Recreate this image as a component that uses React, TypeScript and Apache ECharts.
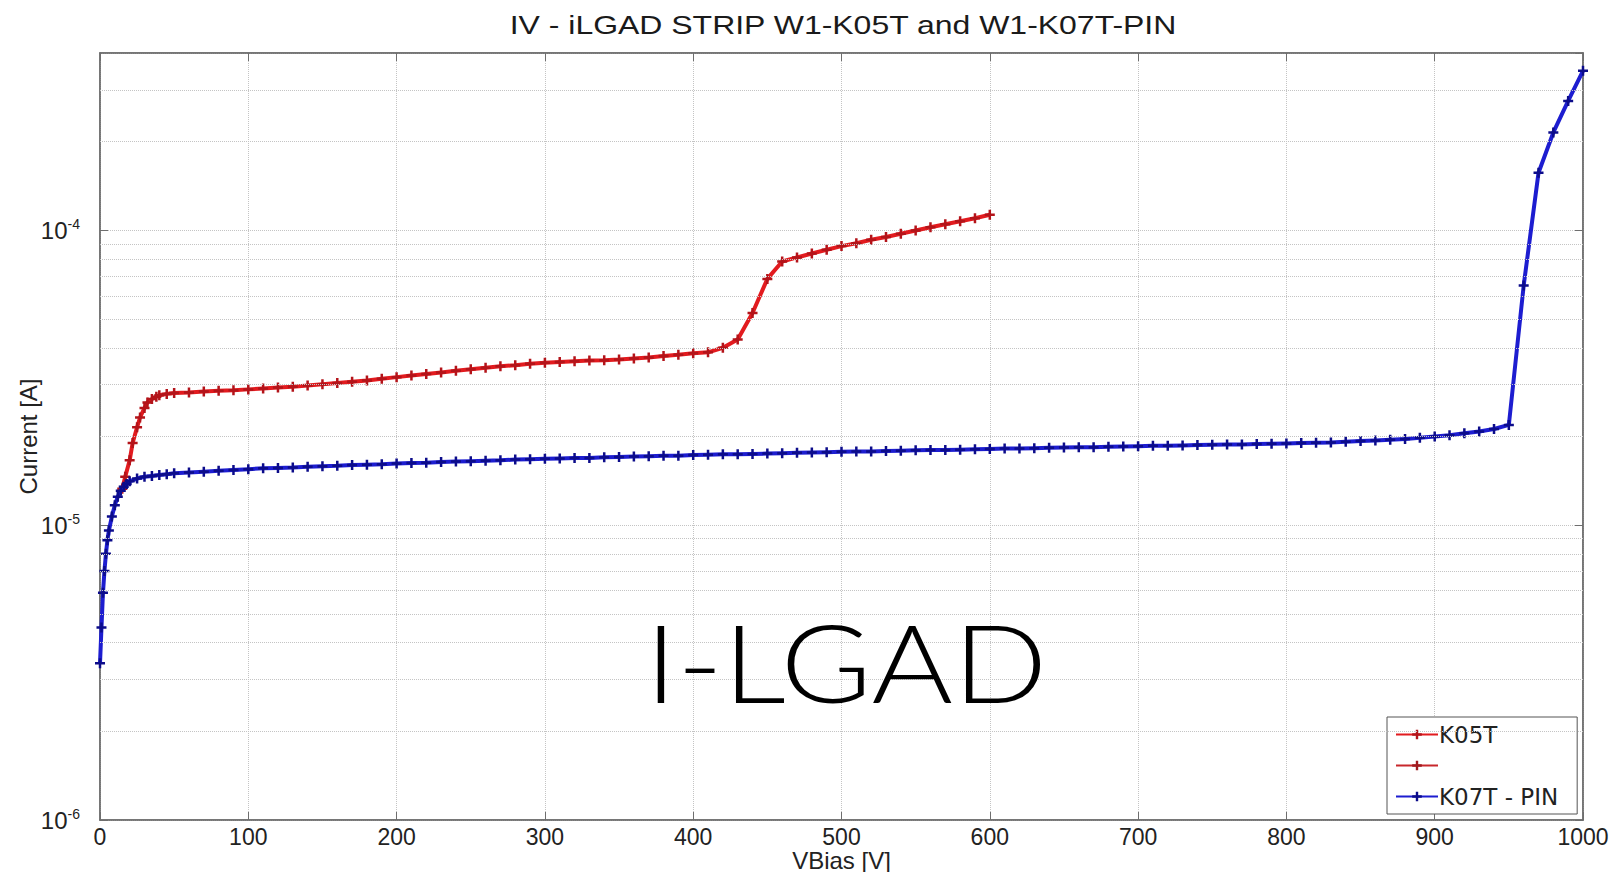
import React, { useEffect, useRef } from "react";
import * as echarts from "echarts";

// ---- data (V in volts, I in amperes) ----
const k05tVolts = [
  15, 17, 20, 22, 25, 27, 30, 32, 35, 38, 40, 45, 50, 60, 70, 80, 90, 100,
  110, 120, 130, 140, 150, 160, 170, 180, 190, 200, 210, 220, 230, 240, 250,
  260, 270, 280, 290, 300, 310, 320, 330, 340, 350, 360, 370, 380, 390, 400,
  410, 420, 430, 440, 450, 460, 470, 480, 490, 500, 510, 520, 530, 540, 550,
  560, 570, 580, 590, 600,
];
const k05tCurrent = [
  1.33e-5, 1.46e-5, 1.66e-5, 1.9e-5, 2.15e-5, 2.32e-5, 2.5e-5, 2.61e-5, 2.68e-5,
  2.73e-5, 2.76e-5, 2.79e-5, 2.81e-5, 2.82e-5, 2.84e-5, 2.86e-5, 2.87e-5, 2.89e-5,
  2.91e-5, 2.93e-5, 2.95e-5, 2.98e-5, 3.01e-5, 3.04e-5, 3.07e-5, 3.1e-5, 3.14e-5,
  3.18e-5, 3.22e-5, 3.26e-5, 3.3e-5, 3.34e-5, 3.38e-5, 3.42e-5, 3.46e-5, 3.49e-5,
  3.53e-5, 3.56e-5, 3.58e-5, 3.6e-5, 3.62e-5, 3.63e-5, 3.65e-5, 3.68e-5, 3.71e-5,
  3.75e-5, 3.79e-5, 3.83e-5, 3.86e-5, 4.0e-5, 4.27e-5, 5.25e-5, 6.85e-5, 7.85e-5,
  8.1e-5, 8.35e-5, 8.6e-5, 8.85e-5, 9.05e-5, 9.3e-5, 9.5e-5, 9.75e-5, 1.0e-4,
  1.025e-4, 1.05e-4, 1.075e-4, 1.1e-4, 1.13e-4,
];

const k07tVolts = [
  0, 1, 2, 3, 4, 5, 6, 8, 10, 12, 14, 16, 18, 20, 25, 30, 35, 40, 45, 50, 60,
  70, 80, 90, 100, 110, 120, 130, 140, 150, 160, 170, 180, 190, 200, 210, 220,
  230, 240, 250, 260, 270, 280, 290, 300, 310, 320, 330, 340, 350, 360, 370,
  380, 390, 400, 410, 420, 430, 440, 450, 460, 470, 480, 490, 500, 510, 520,
  530, 540, 550, 560, 570, 580, 590, 600, 610, 620, 630, 640, 650, 660, 670,
  680, 690, 700, 710, 720, 730, 740, 750, 760, 770, 780, 790, 800, 810, 820,
  830, 840, 850, 860, 870, 880, 890, 900, 910, 920, 930, 940, 950, 960, 970,
  980, 990, 1000,
];
const k07tCurrent = [
  3.4e-6, 4.5e-6, 5.9e-6, 7.0e-6, 8.0e-6, 8.9e-6, 9.6e-6, 1.07e-5, 1.17e-5,
  1.25e-5, 1.31e-5, 1.35e-5, 1.38e-5, 1.41e-5, 1.44e-5, 1.46e-5, 1.47e-5,
  1.48e-5, 1.49e-5, 1.5e-5, 1.51e-5, 1.52e-5, 1.53e-5, 1.54e-5, 1.55e-5,
  1.56e-5, 1.565e-5, 1.57e-5, 1.58e-5, 1.585e-5, 1.59e-5, 1.6e-5, 1.605e-5,
  1.61e-5, 1.62e-5, 1.625e-5, 1.63e-5, 1.64e-5, 1.645e-5, 1.65e-5, 1.655e-5,
  1.66e-5, 1.67e-5, 1.675e-5, 1.68e-5, 1.685e-5, 1.69e-5, 1.69e-5, 1.7e-5,
  1.705e-5, 1.71e-5, 1.715e-5, 1.72e-5, 1.72e-5, 1.73e-5, 1.735e-5, 1.74e-5,
  1.74e-5, 1.745e-5, 1.75e-5, 1.755e-5, 1.76e-5, 1.765e-5, 1.77e-5, 1.775e-5,
  1.78e-5, 1.78e-5, 1.785e-5, 1.79e-5, 1.795e-5, 1.8e-5, 1.8e-5, 1.805e-5,
  1.81e-5, 1.815e-5, 1.82e-5, 1.82e-5, 1.825e-5, 1.83e-5, 1.835e-5, 1.84e-5,
  1.84e-5, 1.845e-5, 1.85e-5, 1.855e-5, 1.86e-5, 1.86e-5, 1.865e-5, 1.87e-5,
  1.875e-5, 1.88e-5, 1.88e-5, 1.885e-5, 1.89e-5, 1.895e-5, 1.9e-5, 1.905e-5,
  1.91e-5, 1.92e-5, 1.93e-5, 1.94e-5, 1.95e-5, 1.96e-5, 1.98e-5, 2.0e-5,
  2.02e-5, 2.05e-5, 2.08e-5, 2.12e-5, 2.19e-5, 6.5e-5, 1.57e-4, 2.15e-4,
  2.75e-4, 3.48e-4,
];

const seriesNames = ["K05T", " ", "K07T - PIN"];
const titleText = "IV - iLGAD STRIP W1-K05T and W1-K07T-PIN";
const watermarkText = "I-LGAD";
const xAxisName = "VBias [V]";
const yAxisName = "Current [A]";

// minor log grid lines (2..9 per decade)
const minorMantissas = [2, 3, 4, 5, 6, 7, 8, 9];
const minorDecades = [1e-6, 1e-5, 1e-4];
const Y_MIN = 1e-6;
const Y_MAX = 4e-4;

const PLUS = "path://M3,0h2v3h3v2h-3v3h-2v-3h-3v-2h3z";
const AX = "#6e6e6e";
const GRIDC = "#c4c4c4";
const TXT = "#222";
const FONT = '"Liberation Sans", Arial, sans-serif';

export default function App() {
  const ref = useRef<HTMLDivElement>(null);

  useEffect(() => {
    if (!ref.current) return;
    const chart = echarts.init(ref.current, undefined, { renderer: "svg" });

    const minorValues: number[] = [];
    minorDecades.forEach((d) =>
      minorMantissas.forEach((m) => {
        const v = m * d;
        if (v < Y_MAX) minorValues.push(v);
      })
    );

    const axisCommonX = {
      type: "value",
      min: 0,
      max: 1000,
      interval: 100,
      axisLine: { show: true, onZero: false, lineStyle: { color: AX, width: 1.5 } },
      axisTick: { show: true, inside: true, length: 8, lineStyle: { color: AX } },
    };
    const axisCommonY = {
      type: "log",
      logBase: 10,
      min: Y_MIN,
      max: Y_MAX,
      axisLine: { show: true, onZero: false, lineStyle: { color: AX, width: 1.5 } },
      axisTick: { show: true, inside: true, length: 8, lineStyle: { color: AX } },
    };

    const option: any = {
      animation: false,
      backgroundColor: "#ffffff",
      textStyle: { fontFamily: FONT },
      grid: {
        left: 100,
        right: 31,
        top: 53,
        bottom: 52,
        outerBoundsMode: "none",
        containLabel: false,
        show: true,
        borderColor: AX,
        borderWidth: 1.5,
        backgroundColor: "transparent",
      },
      graphic: [
        {
          type: "text",
          x: 843,
          y: 12,
          scaleX: 1.23,
          silent: true,
          style: {
            text: titleText,
            font: '26px "Liberation Sans", Arial, sans-serif',
            fill: "#1a1a1a",
            textAlign: "center",
            textVerticalAlign: "top",
          },
        },
        {
          type: "text",
          x: 846,
          y: 661,
          scaleX: 1.15,
          silent: true,
          z: 50,
          style: {
            text: watermarkText,
            font: '300 108px Lato, "Open Sans", sans-serif',
            fill: "#000000",
            textAlign: "center",
            textVerticalAlign: "middle",
          },
        },
      ],
      legend: {
        data: seriesNames,
        orient: "vertical",
        left: 1387,
        top: 717,
        padding: [6, 19, 6, 8],
        itemGap: 8,
        itemWidth: 42,
        itemHeight: 12,
        backgroundColor: "#ffffff",
        borderColor: "#555",
        borderWidth: 1,
        textStyle: { fontSize: 23, color: TXT, fontFamily: '"DejaVu Sans", sans-serif', padding: [0, 0, 0, -4] },
      },
      xAxis: [
        {
          ...axisCommonX,
          position: "bottom",
          name: xAxisName,
          nameLocation: "middle",
          nameMoveOverlap: false,
          nameGap: 28,
          nameTextStyle: { fontSize: 24, color: TXT },
          axisLabel: { fontSize: 23, color: TXT, margin: 5, formatter: (v: number) => String(v) },
          splitLine: { show: true, lineStyle: { color: GRIDC, type: "dotted", width: 1 } },
        },
        {
          ...axisCommonX,
          position: "top",
          axisLabel: { show: false },
          splitLine: { show: false },
        },
      ],
      yAxis: [
        {
          ...axisCommonY,
          position: "left",
          name: yAxisName,
          nameLocation: "middle",
          nameMoveOverlap: false,
          nameGap: 60,
          nameTextStyle: { fontSize: 24, color: TXT },
          axisLabel: {
            showMaxLabel: false,
            margin: 20,
            color: TXT,
            formatter: (v: number) => "{b|10}{s|" + Math.round(Math.log10(v)) + "}",
            rich: {
              b: { fontSize: 24, color: TXT, fontFamily: FONT },
              s: { fontSize: 14, color: TXT, fontFamily: FONT, verticalAlign: "top", padding: [0, 0, 12, 0] },
            },
          },
          splitLine: { show: true, lineStyle: { color: GRIDC, type: "dotted", width: 1 } },
        },
        {
          ...axisCommonY,
          position: "right",
          axisLabel: { show: false },
          splitLine: { show: false },
        },
      ],
      series: [
        {
          name: seriesNames[0],
          type: "line",
          data: k05tVolts.map((v, i) => [v, k05tCurrent[i]]),
          symbol: PLUS,
          symbolSize: 10,
          z: 3,
          lineStyle: { color: "#e21b1f", width: 4 },
          itemStyle: { color: "#b3141a" },
          markLine: {
            silent: true,
            precision: 12,
            symbol: ["none", "none"],
            label: { show: false },
            emphasis: { disabled: true },
            lineStyle: { color: GRIDC, type: "dotted", width: 1 },
            data: minorValues.map((v) => ({ yAxis: v })),
          },
        },
        {
          name: seriesNames[1],
          type: "line",
          data: [],
          symbol: PLUS,
          symbolSize: 10,
          z: 3,
          lineStyle: { color: "#c8282c", width: 4 },
          itemStyle: { color: "#a01a1e" },
        },
        {
          name: seriesNames[2],
          type: "line",
          data: k07tVolts.map((v, i) => [v, k07tCurrent[i]]),
          symbol: PLUS,
          symbolSize: 10,
          z: 4,
          lineStyle: { color: "#1d1dd0", width: 4 },
          itemStyle: { color: "#0c0c8a" },
        },
      ],
    };

    chart.setOption(option);
    return () => chart.dispose();
  }, []);

  return (
    <div
      ref={ref}
      style={{ position: "fixed", left: 0, top: 0, width: 1614, height: 872, background: "#fff" }}
    />
  );
}
